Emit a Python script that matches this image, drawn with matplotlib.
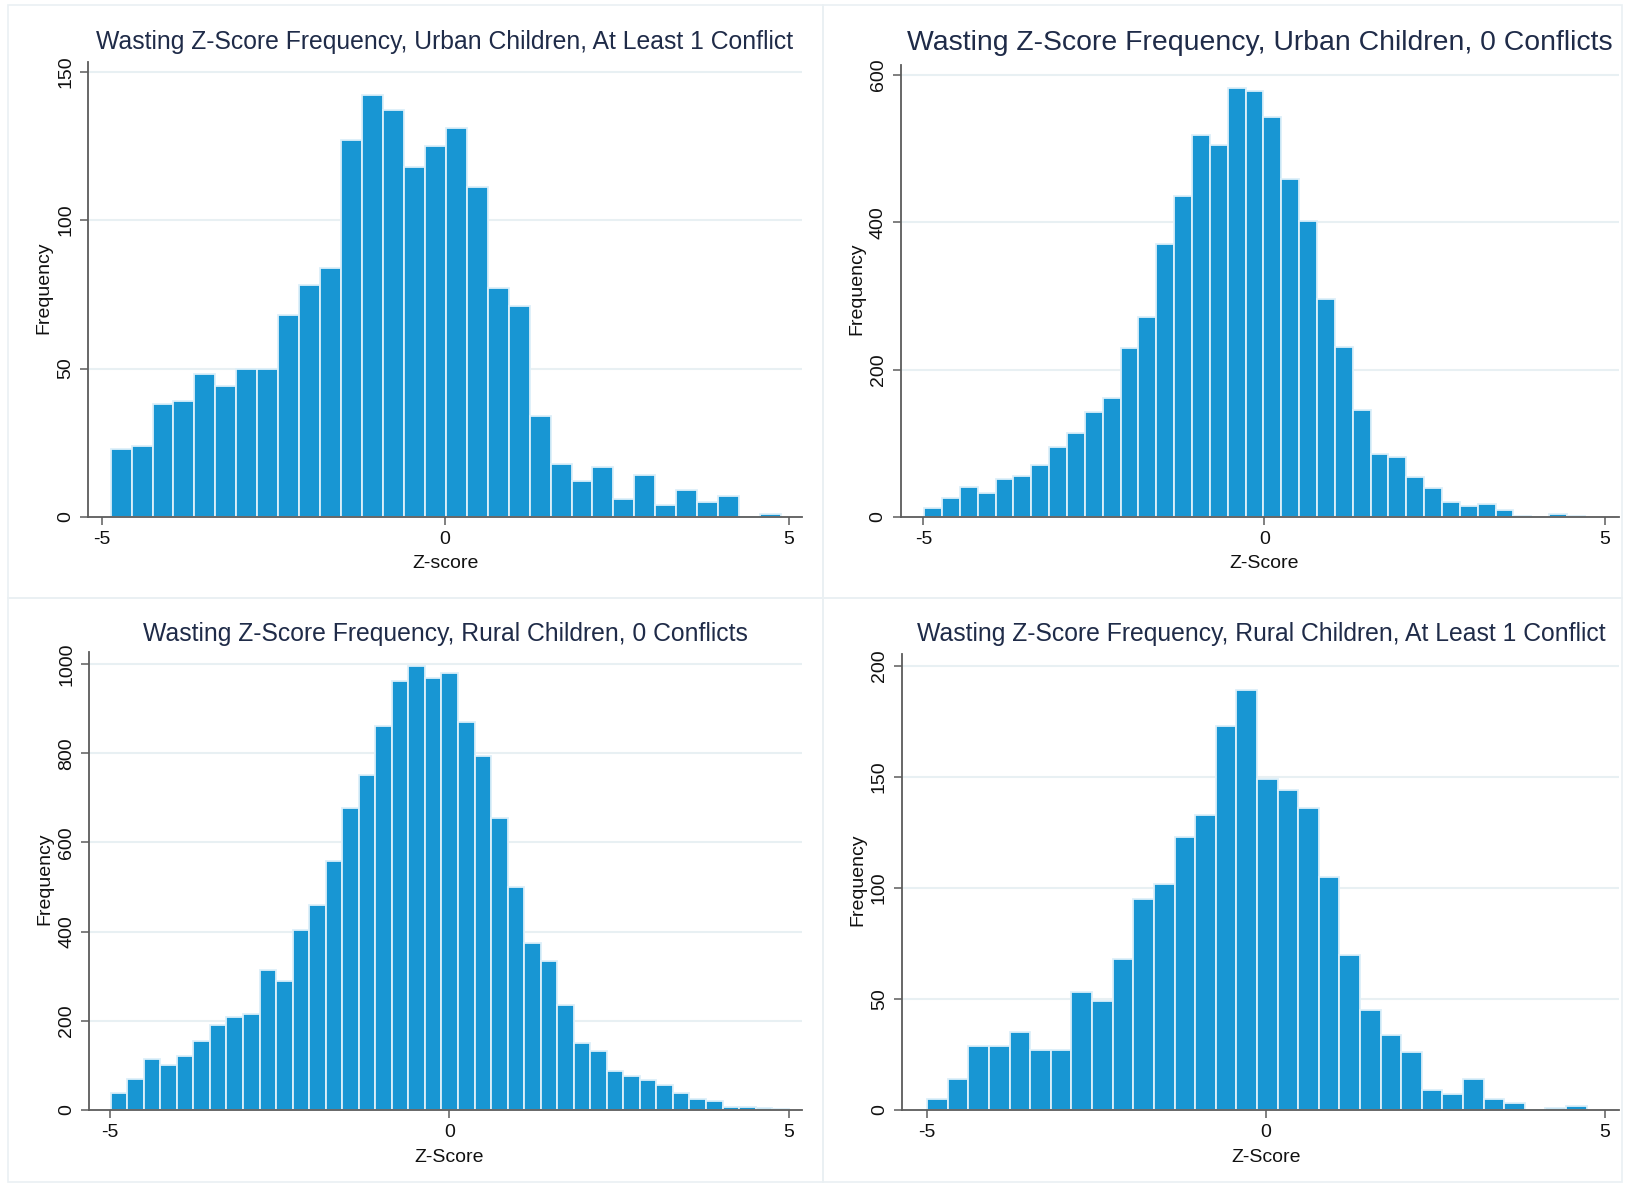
import numpy as np
import matplotlib.pyplot as plt
from matplotlib.patches import Rectangle

# bin starts / widths and counts
urban_conf_start, urban_conf_width = -4.87, 0.305
urban_conf_counts = [23, 24, 38, 39, 48, 44, 50, 50, 68, 78, 84, 127, 142, 137, 118, 125,
                     131, 111, 77, 71, 34, 18, 12, 17, 6, 14, 4, 9, 5, 7, 0, 1]

urban_noconf_start, urban_noconf_width = -4.99, 0.262
urban_noconf_counts = [12, 26, 41, 33, 52, 55, 71, 95, 114, 143, 161, 229, 271, 371, 436, 518,
                       505, 582, 578, 543, 458, 401, 296, 231, 145, 86, 82, 54, 39, 21, 15, 17,
                       10, 1, 0, 4, 1]

rural_noconf_start, rural_noconf_width = -4.99, 0.2437
rural_noconf_counts = [37, 70, 115, 102, 120, 154, 191, 208, 215, 315, 289, 404, 460, 559, 678,
                       751, 860, 961, 995, 969, 980, 870, 793, 654, 501, 374, 334, 236, 150, 133,
                       87, 76, 67, 55, 39, 24, 21, 7, 6, 4, 2]

rural_conf_start, rural_conf_width = -4.99, 0.3037
rural_conf_counts = [5, 14, 29, 29, 35, 27, 27, 53, 49, 68, 95, 102, 123, 133, 173, 189, 149,
                     144, 136, 105, 70, 45, 34, 26, 9, 7, 14, 5, 3, 0, 1, 2]

titles = ["Wasting Z-Score Frequency, Urban Children, At Least 1 Conflict",
          "Wasting Z-Score Frequency, Urban Children, 0 Conflicts",
          "Wasting Z-Score Frequency, Rural Children, 0 Conflicts",
          "Wasting Z-Score Frequency, Rural Children, At Least 1 Conflict"]
xlabels = ["Z-score", "Z-Score", "Z-Score", "Z-Score"]
yticks_list = [[0, 50, 100, 150], [0, 200, 400, 600],
               [0, 200, 400, 600, 800, 1000], [0, 50, 100, 150, 200]]
xticks = [-5, 0, 5]

plt.rcParams['font.family'] = ['Liberation Sans', 'DejaVu Sans']

W, H = 1627, 1186
BAR = "#1896d3"
EDGE = "#dceff9"
AXC = "#5c5c5c"
TXT = "#1f2b48"
GRID = "#e8f0f3"

fig = plt.figure(figsize=(W / 100, H / 100), dpi=100)

# faint panel frames
for (x0, y0, x1, y1) in [(8, 5, 823, 598), (823, 5, 1622, 598),
                         (8, 598, 823, 1182), (823, 598, 1622, 1182)]:
    fig.add_artist(Rectangle((x0 / W, 1 - y1 / H), (x1 - x0) / W, (y1 - y0) / H,
                             transform=fig.transFigure, fill=False,
                             edgecolor="#eaf0f3", lw=1.2))


def panel(box, xpx, ypx, ytopval, start, width, counts, yticks, title, tsize, tpos, xlabel):
    left, top, right, bottom = box
    ax = fig.add_axes([left / W, 1 - bottom / H, (right - left) / W, (bottom - top) / H])
    ppx = (xpx[1] - xpx[0]) / 10
    ax.set_xlim(-5 - (xpx[0] - left) / ppx, 5 + (right - xpx[1]) / ppx)
    ppy = (ypx[0] - ypx[1]) / ytopval
    ax.set_ylim(0, ytopval + (ypx[1] - top) / ppy)

    edges = start + width * np.arange(len(counts))
    ax.bar(edges, counts, width=width, align="edge", color=BAR,
           edgecolor=EDGE, linewidth=1.3, zorder=2)

    ax.set_xticks(xticks)
    ax.set_xticklabels([str(t) for t in xticks])
    ax.set_yticks(yticks)
    ax.set_yticklabels([str(t) for t in yticks], rotation=90, va="center")
    for t in yticks[1:]:
        ax.axhline(t, color=GRID, lw=1.5, zorder=1)
    for s in ["top", "right"]:
        ax.spines[s].set_visible(False)
    for s in ["left", "bottom"]:
        ax.spines[s].set_color(AXC)
        ax.spines[s].set_linewidth(1.3)
    ax.tick_params(length=6, width=1.1, color=AXC, labelsize=14, labelcolor="#111111", pad=4)

    fig.text(tpos[0] / W, 1 - tpos[1] / H, title, ha="center", va="center",
             fontsize=tsize, color=TXT)
    fig.text((xpx[0] + xpx[1]) / 2 / W, 1 - (bottom + 47) / H, xlabel, ha="center",
             va="center", fontsize=14, color="#111111")
    fig.text((left - 44) / W, 1 - ((top + bottom) / 2 - 2) / H, "Frequency", ha="center",
             va="center", rotation=90, fontsize=14, color="#111111")
    return ax


panel((88, 62, 802, 517), (101.7, 788.6), (517, 71.6), 150,
      urban_conf_start, urban_conf_width, urban_conf_counts, yticks_list[0],
      titles[0], 17.8, (445, 41.5), xlabels[0])
panel((900.6, 65, 1618.6, 517), (923.5, 1605), (517, 74.7), 600,
      urban_noconf_start, urban_noconf_width, urban_noconf_counts, yticks_list[1],
      titles[1], 20.4, (1260, 43.5), xlabels[1])
panel((89, 651.6, 802, 1110), (110, 788.6), (1110, 664), 1000,
      rural_noconf_start, rural_noconf_width, rural_noconf_counts, yticks_list[2],
      titles[2], 17.8, (445, 634), xlabels[2])
panel((901.7, 653.7, 1618.6, 1110), (926.6, 1605), (1110, 666), 200,
      rural_conf_start, rural_conf_width, rural_conf_counts, yticks_list[3],
      titles[3], 17.8, (1261, 634), xlabels[3])

fig.savefig("out.png", dpi=100)
